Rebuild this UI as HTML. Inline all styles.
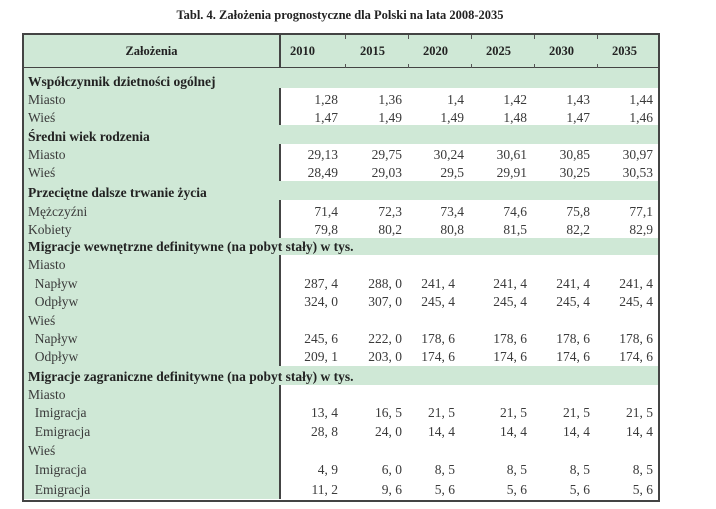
<!DOCTYPE html>
<html><head><meta charset="utf-8"><style>
body{margin:0;width:716px;height:509px;background:#fff;position:relative;overflow:hidden;font-family:"Liberation Serif",serif;color:#3a3a3a}
.a{position:absolute;white-space:nowrap;line-height:18px;font-size:13.5px}
.b{font-weight:bold;color:#222}
.g{position:absolute;background:#cfe8d6}
.r{text-align:right;width:70px}
.t{position:absolute;width:1px;height:4px;background:#555}
</style></head><body>
<div class="a b" style="left:0;width:680px;text-align:center;top:6px;font-size:12.5px">Tabl. 4. Założenia prognostyczne dla Polski na lata 2008-2035</div>
<div class="g" style="left:23px;top:33px;width:635px;height:466px"></div>
<div style="position:absolute;background:#fff;left:281px;top:88px;width:377px;height:37px"></div>
<div style="position:absolute;background:#fff;left:281px;top:144px;width:377px;height:37px"></div>
<div style="position:absolute;background:#fff;left:281px;top:200px;width:377px;height:38px"></div>
<div style="position:absolute;background:#fff;left:281px;top:255px;width:377px;height:111px"></div>
<div style="position:absolute;background:#fff;left:281px;top:385px;width:377px;height:114px"></div>
<div style="position:absolute;left:22px;top:33px;width:634px;height:465px;border:2px solid #444"></div>
<div style="position:absolute;left:22px;top:67px;width:636px;height:1px;background:#444"></div>
<div style="position:absolute;left:279px;top:33px;width:2px;height:35px;background:#444"></div>
<div style="position:absolute;left:279px;top:88px;width:2px;height:37px;background:#444"></div>
<div style="position:absolute;left:279px;top:144px;width:2px;height:37px;background:#444"></div>
<div style="position:absolute;left:279px;top:200px;width:2px;height:38px;background:#444"></div>
<div style="position:absolute;left:279px;top:255px;width:2px;height:111px;background:#444"></div>
<div style="position:absolute;left:279px;top:385px;width:2px;height:114px;background:#444"></div>
<div class="t" style="left:345px;top:35px"></div><div class="t" style="left:345px;top:64px"></div>
<div class="t" style="left:408px;top:35px"></div><div class="t" style="left:408px;top:64px"></div>
<div class="t" style="left:471px;top:35px"></div><div class="t" style="left:471px;top:64px"></div>
<div class="t" style="left:534px;top:35px"></div><div class="t" style="left:534px;top:64px"></div>
<div class="t" style="left:597px;top:35px"></div><div class="t" style="left:597px;top:64px"></div>
<div class="a b" style="left:23px;width:257px;text-align:center;top:42px;font-size:12.5px">Założenia</div>
<div class="a b" style="left:290px;top:42px;font-size:12.5px">2010</div>
<div class="a b" style="left:360px;top:42px;font-size:12.5px">2015</div>
<div class="a b" style="left:423px;top:42px;font-size:12.5px">2020</div>
<div class="a b" style="left:486px;top:42px;font-size:12.5px">2025</div>
<div class="a b" style="left:549px;top:42px;font-size:12.5px">2030</div>
<div class="a b" style="left:612px;top:42px;font-size:12.5px">2035</div>
<div id="rows"></div>
<script>
var R=[
[73,'Współczynnik dzietności ogólnej',1],
[91,'Miasto',0,['1,28','1,36','1,4','1,42','1,43','1,44']],
[109,'Wieś',0,['1,47','1,49','1,49','1,48','1,47','1,46']],
[128,'Średni wiek rodzenia',1],
[146,'Miasto',0,['29,13','29,75','30,24','30,61','30,85','30,97']],
[164,'Wieś',0,['28,49','29,03','29,5','29,91','30,25','30,53']],
[184,'Przeciętne dalsze trwanie życia',1],
[203,'Mężczyźni',0,['71,4','72,3','73,4','74,6','75,8','77,1']],
[221,'Kobiety',0,['79,8','80,2','80,8','81,5','82,2','82,9']],
[238,'Migracje wewnętrzne definitywne (na pobyt stały) w tys.',1],
[256,'Miasto',0],
[275,'&nbsp; Napływ',0,['287, 4','288, 0','241, 4','241, 4','241, 4','241, 4'],1],
[293,'&nbsp; Odpływ',0,['324, 0','307, 0','245, 4','245, 4','245, 4','245, 4'],1],
[312,'Wieś',0],
[330,'&nbsp; Napływ',0,['245, 6','222, 0','178, 6','178, 6','178, 6','178, 6'],1],
[348,'&nbsp; Odpływ',0,['209, 1','203, 0','174, 6','174, 6','174, 6','174, 6'],1],
[368,'Migracje zagraniczne definitywne (na pobyt stały) w tys.',1],
[386,'Miasto',0],
[404,'&nbsp; Imigracja',0,['13, 4','16, 5','21, 5','21, 5','21, 5','21, 5'],1],
[423,'&nbsp; Emigracja',0,['28, 8','24, 0','14, 4','14, 4','14, 4','14, 4'],1],
[442,'Wieś',0],
[461,'&nbsp; Imigracja',0,['4, 9','6, 0','8, 5','8, 5','8, 5','8, 5'],1],
[481,'&nbsp; Emigracja',0,['11, 2','9, 6','5, 6','5, 6','5, 6','5, 6'],1]];
var E=[338,402,464,527,590,653],h='';
R.forEach(function(r){
h+='<div class="a'+(r[2]?' b':'')+'" style="left:28px;top:'+r[0]+'px">'+r[1]+'</div>';
if(r[3])r[3].forEach(function(v,i){var e=E[i];if(r[4]&&i==2)e=455;
h+='<div class="a r" style="left:'+(e-70)+'px;top:'+r[0]+'px">'+v+'</div>';});
});
document.getElementById('rows').innerHTML=h;
</script>
</body></html>
